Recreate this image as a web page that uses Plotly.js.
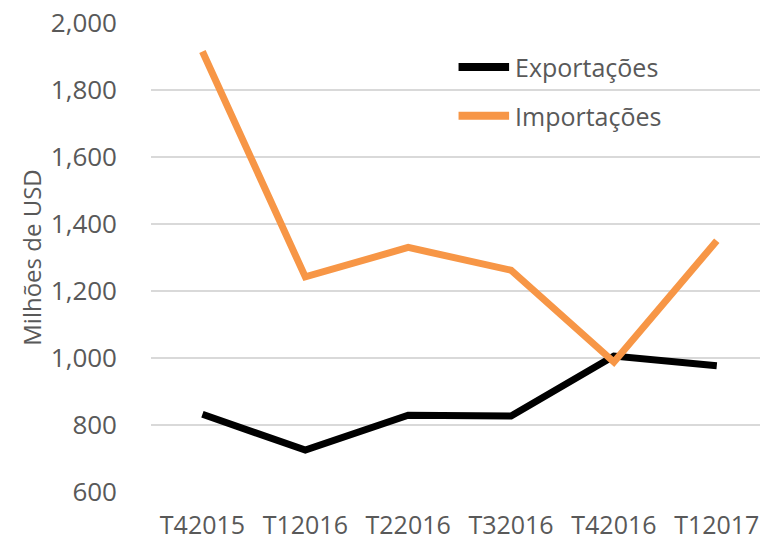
<!DOCTYPE html>
<html>
<head>
<meta charset="utf-8">
<script src="https://cdn.plot.ly/plotly-3.0.1.min.js"></script>
<style>html,body{margin:0;padding:0;background:#fff;overflow:hidden;}#chart{width:760px;height:541px;}</style>
</head>
<body>
<div id="chart"></div>
<script>
const categories = ['T42015', 'T12016', 'T22016', 'T32016', 'T42016', 'T12017'];
const exportacoes = [832, 725, 829, 827, 1006, 977];
const importacoes = [1915, 1242, 1330, 1262, 988, 1350];
const seriesNames = ['Exportações', 'Importações'];
const seriesColors = ['#000000', '#F79646'];
const yTitle = 'Milhões de USD';

const fontFamily = '"Open Sans", "Noto Sans", sans-serif';
const textColor = '#595959';

const traces = [
  {
    type: 'scatter', mode: 'lines', name: seriesNames[0],
    x: categories, y: exportacoes,
    line: {color: seriesColors[0], width: 7}
  },
  {
    type: 'scatter', mode: 'lines', name: seriesNames[1],
    x: categories, y: importacoes,
    line: {color: seriesColors[1], width: 7}
  }
];

// legend drawn as shapes + annotations (paper coordinates)
const legendY = [0.906, 0.802];
const shapes = seriesNames.map((n, i) => ({
  type: 'line', xref: 'paper', yref: 'paper',
  x0: 0.505, x1: 0.588, y0: legendY[i], y1: legendY[i],
  line: {color: seriesColors[i], width: 8}
}));
const annotations = seriesNames.map((n, i) => ({
  text: n, xref: 'paper', yref: 'paper',
  x: 0.594, y: legendY[i], xanchor: 'left', yanchor: 'middle',
  showarrow: false, font: {size: 25, color: textColor}
}));

const layout = {
  width: 760, height: 541,
  margin: {l: 151, r: 0, t: 23, b: 49},
  paper_bgcolor: '#ffffff', plot_bgcolor: '#ffffff',
  font: {family: fontFamily, color: textColor, size: 25},
  showlegend: false,
  shapes: shapes,
  annotations: annotations,
  xaxis: {
    type: 'category', range: [-0.5, 5.42],
    showgrid: false, showline: false, zeroline: false, ticks: '',
    ticklabelstandoff: 16, tickfont: {size: 25, color: textColor},
    fixedrange: true
  },
  yaxis: {
    range: [600, 2000], dtick: 200, tick0: 600, tickformat: ',d',
    showgrid: true, gridcolor: '#D9D9D9', gridwidth: 1.5,
    showline: false, zeroline: false, ticks: '',
    ticklabelstandoff: 33, tickfont: {size: 26, color: textColor},
    title: {text: yTitle, font: {size: 24, color: textColor}, standoff: 2},
    automargin: false, fixedrange: true
  }
};

Plotly.newPlot('chart', traces, layout, {displayModeBar: false, staticPlot: true});
</script>
</body>
</html>
